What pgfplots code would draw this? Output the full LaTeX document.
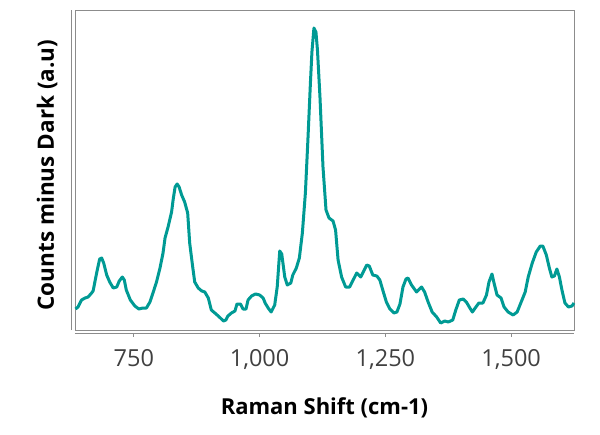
\documentclass[border=0pt]{standalone}
\usepackage{pgfplots}
\pgfplotsset{compat=1.18}
\usepackage{fontspec}
\setmainfont{Open Sans}
\definecolor{teal1}{HTML}{009A94}
\definecolor{frame}{HTML}{8C8C8C}
\definecolor{ticktext}{HTML}{404040}

\pgfplotstableread{
x y
634 21
639 23
646 30
653 32
659 33
666 37
669 39
676 57
682 71
686 72
690 67
696 55
702 48
709 42
716 43
721 49
727 53
731 50
735 40
743 30
752 24
760 21
768 22
775 22
782 28
788 37
795 48
802 62
808 77
812 92
818 103
825 118
828 130
832 143
836 146
840 143
845 135
851 128
857 117
861 87
867 63
871 48
878 42
885 39
891 38
898 32
904 20
911 17
920 13
928 9
933 10
937 14
944 17
951 19
955 26
962 26
967 21
973 21
977 30
984 34
992 36
1000 35
1007 32
1011 27
1017 22
1023 18
1030 25
1035 43
1040 79
1044 76
1050 53
1055 45
1062 47
1066 55
1073 62
1079 72
1085 97
1091 137
1096 190
1101 247
1104 278
1108 302
1112 298
1115 280
1120 233
1126 163
1132 120
1138 112
1146 109
1151 100
1156 70
1163 53
1171 43
1179 43
1186 50
1193 57
1201 53
1206 58
1213 65
1218 64
1225 55
1233 54
1239 50
1246 38
1252 28
1259 21
1267 17
1273 18
1279 26
1285 43
1291 51
1295 52
1302 45
1312 38
1322 43
1328 38
1335 28
1343 18
1352 13
1360 7
1368 9
1375 8
1384 10
1390 20
1397 30
1405 31
1411 28
1418 22
1423 18
1430 23
1436 27
1444 27
1451 35
1456 48
1462 56
1466 47
1472 35
1480 32
1486 23
1494 18
1504 15
1512 18
1520 28
1528 38
1534 53
1542 67
1550 78
1558 84
1563 84
1570 75
1576 62
1581 53
1586 54
1591 61
1596 53
1601 40
1607 27
1614 23
1621 24
1625 27
}\spectrum

\begin{document}
\begin{tikzpicture}
  \useasboundingbox (-75pt,-104pt) rectangle (525pt,330pt);
  \begin{axis}[
    at={(0,0)}, anchor=south west,
    scale only axis,
    width=499pt, height=320pt,
    xmin=633, xmax=1625,
    ymin=0, ymax=320,
    axis line style={frame, line width=0.8pt},
    xtick={750,1000,1250,1500},
    ytick=\empty,
    xtick pos=bottom,
    tick align=outside,
    major tick length=3pt,
    xtick style={frame, line width=0.8pt, yshift=-3.5pt},
    /pgf/number format/.cd, 1000 sep={,}, assume math mode=true,
    /pgfplots/.cd,
    xticklabel style={font=\fontsize{23.5}{23.5}\selectfont, text=ticktext, yshift=-13pt},
    xlabel={Raman Shift (cm-1)},
    ylabel={Counts minus Dark (a.u)},
    xlabel style={font=\bfseries\fontsize{22}{22}\selectfont, at={(axis description cs:0.5,-0.244)}, anchor=center},
    ylabel style={font=\bfseries\fontsize{22.5}{22.5}\selectfont, at={(axis description cs:-0.056,0.484)}, anchor=center},
    clip=false,
  ]
    \addplot[teal1, line width=3pt, line join=round] table[x=x, y=y] {\spectrum};
    \draw[frame, line width=0.8pt] ([xshift=-3.5pt]rel axis cs:0,0) -- ([xshift=-3.5pt]rel axis cs:0,1);
    \draw[frame, line width=0.8pt] ([yshift=-3.5pt]rel axis cs:0,0) -- ([yshift=-3.5pt]rel axis cs:1,0);
  \end{axis}
\end{tikzpicture}
\end{document}
